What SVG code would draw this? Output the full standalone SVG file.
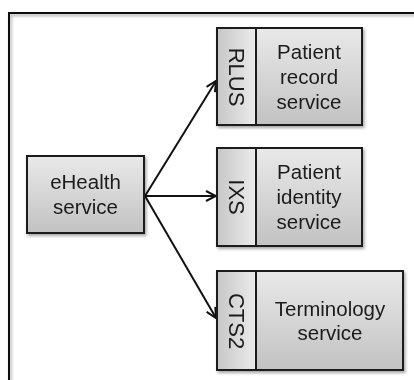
<svg xmlns="http://www.w3.org/2000/svg" width="414" height="380" viewBox="0 0 414 380">
<style>
.box{stroke:#1a1a1a;stroke-width:2;}
.main{fill:url(#gMain);}
.tab{fill:url(#gTab);}
.t{font-family:"Liberation Sans",Arial,sans-serif;font-size:20.5px;fill:#1a1a1a;text-anchor:middle;}
.r{font-family:"Liberation Sans",Arial,sans-serif;font-size:22px;fill:#1a1a1a;text-anchor:middle;}
.c{stroke:#111;stroke-width:2;fill:none;marker-end:url(#ah);}
</style>
<defs>
<linearGradient id="gMain" x1="0" y1="0" x2="0" y2="1">
<stop offset="0" stop-color="#e9e9e9"/>
<stop offset="1" stop-color="#c2c2c2"/>
</linearGradient>
<linearGradient id="gTab" x1="0" y1="0" x2="1" y2="0">
<stop offset="0" stop-color="#c6c6c6"/>
<stop offset="1" stop-color="#ececec"/>
</linearGradient>
<filter id="sh" x="-10%" y="-10%" width="130%" height="130%">
<feDropShadow dx="1.5" dy="2" stdDeviation="1.5" flood-color="#000" flood-opacity="0.35"/>
</filter>
<marker id="ah" viewBox="0 0 12 12" refX="11" refY="6" markerWidth="12" markerHeight="12" markerUnits="userSpaceOnUse" orient="auto">
<path d="M1,1 L11,6 L1,11" fill="none" stroke="#111" stroke-width="2"/>
</marker>
</defs>
<rect x="0" y="0" width="414" height="380" fill="#fff"/>
<rect id="frame" x="9" y="13" width="412" height="400" fill="none" stroke="#111" stroke-width="2" filter="url(#sh)"/>

<g id="connectors">
<line class="c" x1="145" y1="196" x2="216" y2="81"/>
<line class="c" x1="145" y1="196" x2="216" y2="196"/>
<line class="c" x1="145" y1="196" x2="216" y2="318"/>
</g>

<g id="ehealth" filter="url(#sh)">
<rect class="box main" x="27" y="156" width="117" height="77"/>
<text class="t" x="85.5" y="189">eHealth</text>
<text class="t" x="85.5" y="213.5">service</text>
</g>

<g id="rlus" filter="url(#sh)">
<rect class="box main" x="256" y="28" width="106" height="97"/>
<rect class="box tab" x="217" y="28" width="39" height="97"/>
<text class="r" transform="translate(236.5,77) rotate(90)" x="0" y="8">RLUS</text>
<text class="t" x="309" y="59">Patient</text>
<text class="t" x="309" y="84">record</text>
<text class="t" x="309" y="109">service</text>
</g>

<g id="ixs" filter="url(#sh)">
<rect class="box main" x="256" y="148" width="106" height="98"/>
<rect class="box tab" x="217" y="148" width="39" height="98"/>
<text class="r" transform="translate(236.5,197) rotate(90)" x="0" y="8">IXS</text>
<text class="t" x="309" y="178.5">Patient</text>
<text class="t" x="309" y="203.5">identity</text>
<text class="t" x="309" y="228.5">service</text>
</g>

<g id="cts2" filter="url(#sh)">
<rect class="box main" x="256" y="271" width="147" height="99"/>
<rect class="box tab" x="217" y="271" width="39" height="99"/>
<text class="r" transform="translate(236.5,321) rotate(90)" x="0" y="8">CTS2</text>
<text class="t" x="330" y="315.5">Terminology</text>
<text class="t" x="330" y="340">service</text>
</g>
</svg>
